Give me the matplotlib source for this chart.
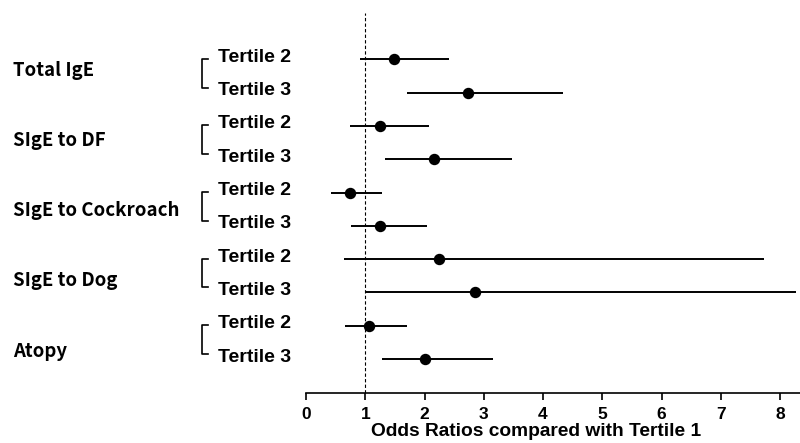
import matplotlib
matplotlib.use("Agg")
import matplotlib.pyplot as plt
import matplotlib.transforms as mtrans
from matplotlib.lines import Line2D

groups = ["Total IgE", "SIgE to DF", "SIgE to Cockroach", "SIgE to Dog", "Atopy"]
tertiles = ["Tertile 2", "Tertile 3"]
odds = [1.48, 2.73, 1.25, 2.16, 0.75, 1.25, 2.25, 2.86, 1.06, 2.00]
ci_low = [0.91, 1.71, 0.75, 1.34, 0.43, 0.76, 0.64, 0.99, 0.66, 1.28]
ci_high = [2.41, 4.34, 2.07, 3.48, 1.28, 2.04, 7.73, 8.27, 1.70, 3.16]
xticks = [0, 1, 2, 3, 4, 5, 6, 7, 8]
xlabel = "Odds Ratios compared with Tertile 1"

W, H = 800, 443
fig = plt.figure(figsize=(W / 100, H / 100), dpi=100)
ax_left, ax_right, ax_top, ax_bot = 306, 800, 13, 393
ax = fig.add_axes([ax_left / W, 1 - ax_bot / H, (ax_right - ax_left) / W, (ax_bot - ax_top) / H])
ax.set_xlim(0, (ax_right - ax_left) / 59.25)
ax.set_ylim(ax_bot, ax_top)

row0, step = 59.3, 33.3
rows = [row0 + step * i for i in range(len(odds))]

ax.axvline(1, color="black", lw=0.8, ls=(0, (3, 2)), zorder=1)
ax.hlines(rows, ci_low, ci_high, color="black", lw=1.4, zorder=2)
ax.plot(odds, rows, "o", color="black", ms=7.2, zorder=3)

for s in ["top", "right", "left"]:
    ax.spines[s].set_visible(False)
ax.spines["bottom"].set_linewidth(1.2)
ax.set_yticks([])
ax.set_xticks(xticks)
ax.set_xticklabels([str(t) for t in xticks], fontfamily="Liberation Sans",
                   fontweight="bold", fontsize=12.5)
ax.tick_params(axis="x", length=5, width=1.2, pad=5)

fig.text(536 / W, 1 - 432 / H, xlabel, ha="center", va="center",
         fontfamily="Liberation Sans", fontweight="bold", fontsize=13.8)

tr = mtrans.blended_transform_factory(fig.transFigure, ax.transData)
group_y = [70, 141, 210, 281, 351.7]
for gi, g in enumerate(groups):
    ax.text(13 / W, group_y[gi], g, transform=tr, ha="left", va="center",
            fontfamily=["Noto Sans CJK KR", "DejaVu Sans"], fontweight="bold", fontsize=13.4, clip_on=False)
    y2 = rows[2 * gi]
    y3 = rows[2 * gi + 1]
    yt, yb = y2 - 0.5, y3 - 5
    bx0, bx1 = 202 / W, 207.5 / W
    ax.add_artist(Line2D([bx1, bx0, bx0, bx1], [yt, yt, yb, yb], transform=tr,
                         color="black", lw=1.2, clip_on=False))
    for k in range(2):
        ax.text(218 / W, rows[2 * gi + k] - 2, tertiles[k], transform=tr, ha="left", va="center",
                fontfamily="Liberation Sans", fontweight="bold", fontsize=14, clip_on=False)

fig.savefig("out.png", dpi=100)
